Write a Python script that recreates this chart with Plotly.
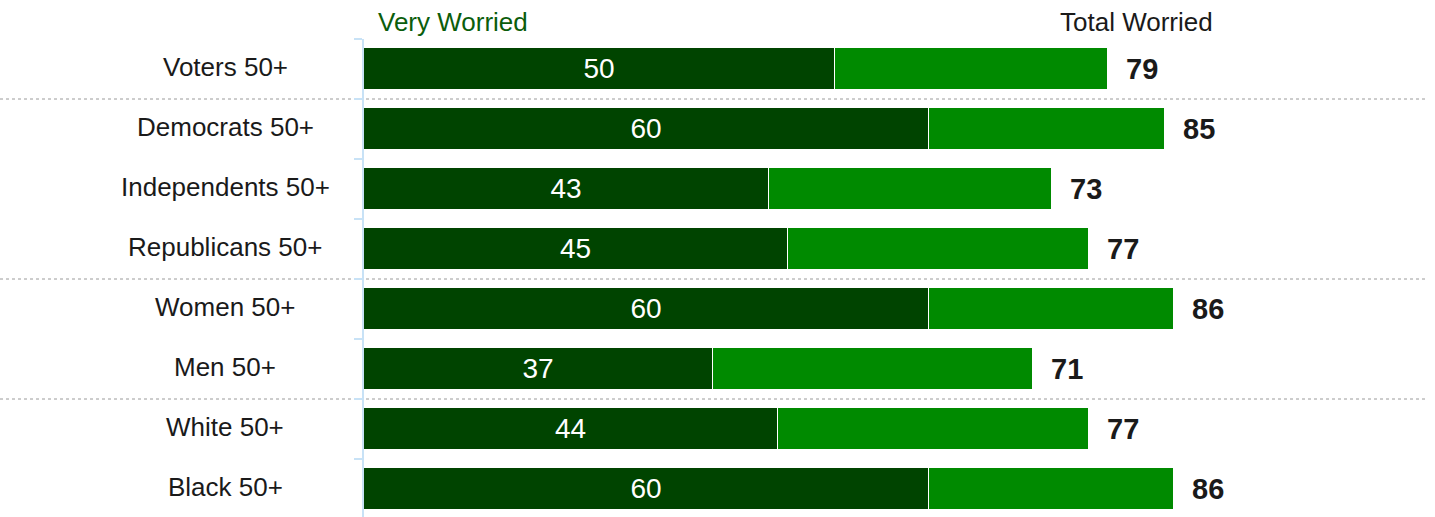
import plotly.graph_objects as go

categories = ["Voters 50+", "Democrats 50+", "Independents 50+", "Republicans 50+",
              "Women 50+", "Men 50+", "White 50+", "Black 50+"]
very_worried = [50, 60, 43, 45, 60, 37, 44, 60]
total_worried = [79, 85, 73, 77, 86, 71, 77, 86]
separator_after = [0, 3, 5]  # group boundaries (index of last row in group)

DARK = "#004400"
LIGHT = "#008A00"
FONT = "Liberation Sans, Arial, sans-serif"

W, H = 1435, 517
L = 364
TOP = 39
ROW = 60
plot_h = H - TOP
plot_w = W - L
ymax = -0.5 + plot_h / ROW
px_per_unit = 9.42
xmax = plot_w / px_per_unit


def px_x(px):
    return (px - L) / plot_w


def px_y(py):
    return 1 + (TOP - py) / plot_h


ypos = list(range(len(categories)))
rest = [t - v for t, v in zip(total_worried, very_worried)]

fig = go.Figure()
fig.add_trace(go.Bar(
    y=ypos, x=very_worried, orientation="h", width=0.685,
    marker=dict(color=DARK, line=dict(color="white", width=1)),
    text=[str(v) for v in very_worried], textposition="inside",
    insidetextanchor="middle",
    textfont=dict(color="white", size=28, family=FONT),
    hoverinfo="skip",
))
fig.add_trace(go.Bar(
    y=ypos, x=rest, orientation="h", width=0.685,
    marker=dict(color=LIGHT, line=dict(color="white", width=1)),
    hoverinfo="skip",
))

annotations = []
for i, t in enumerate(total_worried):
    annotations.append(dict(
        x=t, xref="x", y=i, yref="y", text="<b>%d</b>" % t, showarrow=False,
        xanchor="left", yanchor="middle", xshift=16,
        font=dict(size=29, color="#1a1a1a", family=FONT),
    ))
for i, c in enumerate(categories):
    annotations.append(dict(
        x=px_x(225), xref="paper", y=i, yref="y", yshift=2, text=c,
        showarrow=False, xanchor="center", yanchor="middle",
        font=dict(size=26, color="#1a1a1a", family=FONT),
    ))
annotations.append(dict(
    x=px_x(376), xref="paper", y=px_y(22), yref="paper", text="Very Worried",
    showarrow=False, xanchor="left", yanchor="middle",
    font=dict(size=26, color="#0B5D0B", family=FONT),
))
annotations.append(dict(
    x=px_x(1058), xref="paper", y=px_y(22), yref="paper", text="Total Worried",
    showarrow=False, xanchor="left", yanchor="middle",
    font=dict(size=26, color="#1a1a1a", family=FONT),
))

shapes = []
for s in separator_after:
    shapes.append(dict(
        type="line", xref="paper", yref="y",
        x0=px_x(0), x1=px_x(1428), y0=s + 0.5, y1=s + 0.5,
        line=dict(color="#9a9a9a", width=1, dash="dot"), layer="below",
    ))

fig.update_layout(
    width=W, height=H, barmode="stack", bargap=0,
    margin=dict(l=L, r=0, t=TOP, b=0, autoexpand=False),
    plot_bgcolor="white", paper_bgcolor="white",
    showlegend=False, hovermode=False,
    xaxis=dict(range=[0, xmax], visible=False, fixedrange=True),
    yaxis=dict(
        range=[ymax, -0.5], showgrid=False, zeroline=False, fixedrange=True,
        showline=True, linecolor="#C8E2F6", linewidth=2,
        ticks="outside", ticklen=8, tickcolor="#C8E2F6", tickwidth=2,
        tickvals=[i - 0.5 for i in range(len(categories) + 1)],
        showticklabels=False,
    ),
    annotations=annotations, shapes=shapes,
)

fig.write_html(
    "out.html",
    config={"displayModeBar": False},
    post_script="document.body.style.margin='0';document.body.style.overflow='hidden';",
)
